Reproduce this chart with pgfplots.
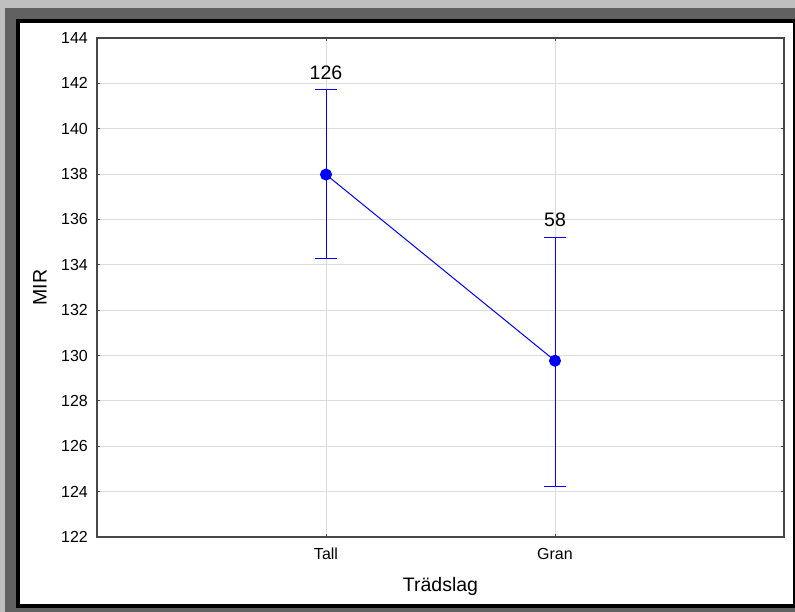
\documentclass[border=0pt]{standalone}
\usepackage{pgfplots}
\pgfplotsset{compat=1.18}
\usepackage{pgfplotstable}
\usepackage{fontspec}
\setmainfont{Liberation Sans}
\pgfplotstableread{
x y ep em n
1 137.98 3.74 3.69 126
2 129.77 5.45 5.53 58
}\means
\pgfplotstableread{
x y n
1 141.72 126
2 135.22 58
}\tops
\begin{document}
\begin{tikzpicture}[x=1pt,y=1pt]
\fill[black!25] (0,0) rectangle (795,612);
\fill[black!62] (5,0) rectangle (795,604);
\fill[black] (16,4) rectangle (795,593);
\fill[white] (20,8) rectangle (793,589);
\begin{axis}[
  at={(97pt,75pt)}, anchor=south west,
  scale only axis, width=687pt, height=499pt,
  xmin=0, xmax=3, ymin=122, ymax=144,
  xtick={1,2}, xticklabels={Tall,Gran},
  ytick={122,124,...,144},
  /pgf/number format/assume math mode=true,
  grid=major, grid style={draw=black!14, line width=1pt},
  axis line style={black!72, line width=1.2pt},
  tick style={black!72, line width=1pt}, major tick length=3pt, tick align=inside,
  ticklabel style={font=\fontsize{16}{18}\selectfont},
  yticklabel style={anchor=east, inner sep=0pt, xshift=-9pt},
  xticklabel style={anchor=north, inner sep=0pt, yshift=-11pt},
  xlabel={Trädslag}, ylabel={MIR},
  label style={font=\fontsize{19.5}{22}\selectfont},
  xlabel style={at={(axis description cs:0.5,-0.1)}, anchor=center},
  ylabel style={at={(axis description cs:-0.083,0.5)}, anchor=center},
  clip=false,
]
\addplot[blue, line width=1pt, mark=*, mark size=5.5pt, mark options={fill=blue, draw=blue},
  error bars/.cd, y dir=both, y explicit,
  error bar style={draw=blue, line width=1pt},
  error mark options={draw=blue, color=blue, rotate=90, mark size=11pt, line width=1pt}]
  table[x=x, y=y, y error plus=ep, y error minus=em] {\means};
\addplot[draw=none, mark=none, nodes near coords, point meta=explicit symbolic,
  nodes near coords style={anchor=south, inner sep=0pt, yshift=10pt, font=\fontsize{19.5}{22}\selectfont, text=black}]
  table[x=x, y=y, meta=n] {\tops};
\end{axis}
\end{tikzpicture}
\end{document}
